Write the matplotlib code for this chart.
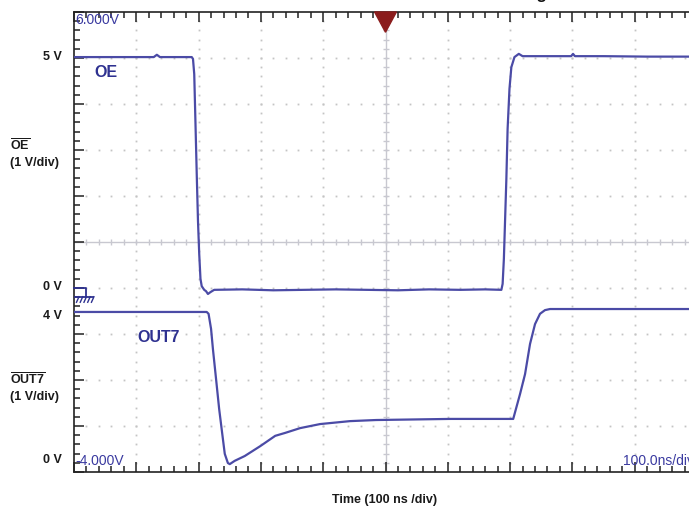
import matplotlib.pyplot as plt
import numpy as np

plt.rcParams['font.family'] = ['Liberation Sans', 'DejaVu Sans']
plt.rcParams['mathtext.fontset'] = 'custom'
plt.rcParams['mathtext.bf'] = 'Liberation Sans:bold'
plt.rcParams['mathtext.rm'] = 'Liberation Sans:bold'

# OE channel (time in ns, volts)
oe_t = [0, 128, 133, 138, 189, 191, 193, 195, 197, 199, 201, 203, 205,
        209, 212, 215, 219, 225, 270, 320, 370, 420, 470, 520, 570, 620,
        660, 686, 688, 690, 692, 694, 696, 699, 702, 707, 714, 720, 760,
        798, 801, 804, 850, 920, 1000]
oe_v = [5.02, 5.02, 5.07, 5.02, 5.02, 4.98, 4.65, 3.57, 2.48, 1.46, 0.74,
        0.20, 0.04, -0.04, -0.07, -0.13, -0.09, -0.04, -0.03, -0.05, -0.04,
        -0.03, -0.04, -0.05, -0.03, -0.04, -0.03, -0.04, 0.09, 0.63, 1.50,
        2.37, 3.46, 4.33, 4.80, 5.02, 5.09, 5.04, 5.04, 5.04, 5.09, 5.04,
        5.04, 5.03, 5.03]

# OUT7 channel (time in ns, volts)
out7_t = [0, 213, 216, 220, 223, 228, 233, 238, 242, 247, 250, 258, 274,
          299, 323, 339, 363, 395, 443, 485, 604, 705, 716, 724, 732, 740,
          748, 756, 764, 1000]
out7_v = [4.0, 4.0, 3.95, 3.54, 2.99, 2.18, 1.36, 0.68, 0.14, -0.11, -0.14,
          -0.05, 0.08, 0.35, 0.63, 0.71, 0.84, 0.95, 1.03, 1.06, 1.09, 1.09,
          1.77, 2.31, 3.13, 3.67, 3.95, 4.05, 4.08, 4.08]

screen_top = 6.0
screen_bottom = -4.0
trigger_t = 500
# OUT7 is drawn with its own offset on the shared screen
out7_zero = -3.717
out7_gain = 0.799

trace_color = '#4b4ba6'
text_blue = '#3a3aa0'
label_navy = '#2e3190'

W, H = 689, 510


def fpos(x, y):
    return x / W, 1 - y / H


fig = plt.figure(figsize=(W / 100, H / 100), dpi=100)
ax = fig.add_axes([74 / W, 37 / H, 623 / W, 460 / H])
ax.set_xlim(0, 1000)
ax.set_ylim(screen_bottom, screen_top)

for s in ['left', 'top', 'bottom']:
    ax.spines[s].set_color('#222222')
    ax.spines[s].set_linewidth(1.2)
ax.spines['right'].set_visible(False)

ax.set_xticks(np.arange(0, 1001, 100))
ax.set_xticks(np.arange(0, 1001, 20), minor=True)
ax.set_yticks(np.arange(-4, 7, 1))
ax.set_yticks(np.arange(-4, 6.01, 0.2), minor=True)
ax.tick_params(which='both', direction='in', top=True, bottom=True,
               left=True, right=False, labelbottom=False, labelleft=False,
               color='#222222', width=1.1)
ax.tick_params(which='major', length=7)
ax.tick_params(which='minor', length=4)

# dotted graticule
gx = np.arange(20, 1000, 20)
for gy in range(-3, 6):
    if gy == 1:
        continue
    ax.plot(gx, np.full(len(gx), gy), ls='none', marker='s', ms=1.3,
            color='#c4c4c4', mec='none', zorder=1)
gyy = np.arange(-3.8, 6, 0.2)
for gxx in range(100, 1000, 100):
    if gxx == trigger_t:
        continue
    ax.plot(np.full(len(gyy), gxx), gyy, ls='none', marker='s', ms=1.3,
            color='#c4c4c4', mec='none', zorder=1)

# center crosshair
ax.axhline(1, color='#c8c8d0', lw=1.0, zorder=1)
ax.axvline(trigger_t, color='#c8c8d0', lw=1.0, zorder=1)
ax.plot(gx, np.full(len(gx), 1), ls='none', marker='|', ms=4,
        color='#c8c8d0', zorder=1)
ax.plot(np.full(len(gyy), trigger_t), gyy, ls='none', marker='_', ms=4,
        color='#c8c8d0', zorder=1)

# traces
ax.plot(oe_t, oe_v, color=trace_color, lw=1.6, zorder=3)
ax.plot(out7_t, out7_zero + out7_gain * np.array(out7_v), color=trace_color,
        lw=1.6, zorder=3)

# trigger marker
ax.fill([trigger_t - 17.5, trigger_t + 17.5, trigger_t],
        [screen_top, screen_top, screen_top - 0.44],
        color='#8b1c1c', zorder=5, clip_on=False)

# ground marker
ax.plot([0, 19.3, 19.3], [0, 0, -0.19], color=label_navy, lw=1.3,
        clip_on=False, zorder=4)
ax.plot([1.6, 31], [-0.19, -0.19], color=label_navy, lw=1.3, zorder=4)
for hx in [8, 14, 20, 26, 32]:
    ax.plot([hx, hx - 4], [-0.19, -0.31], color=label_navy, lw=1.0,
            zorder=4)

# scope readouts
ax.text(2, 5.85, '6.000V', color=text_blue, fontsize=10, va='center',
        ha='left')
ax.text(3, -3.73, '-4.000V', color=text_blue, fontsize=10, va='center',
        ha='left')
ax.text(881, -3.73, '100.0ns/div', color=text_blue, fontsize=10,
        va='center', ha='left')

# trace names
ax.text(33, 4.7, 'OE', color=label_navy, fontsize=11.5, fontweight='bold',
        va='center', ha='left')
ax.text(101, -1.05, 'OUT7', color=label_navy, fontsize=11.5,
        fontweight='bold', va='center', ha='left')

# left side labels
lab = dict(color='#1a1a1a', fontsize=9, fontweight='bold', va='center')
fig.text(*fpos(62, 57), '5 V', ha='right', **lab)
fig.text(*fpos(10, 146), r'$\overline{\mathbf{OE}}$', ha='left', **lab)
fig.text(*fpos(10, 163), '(1 V/div)', ha='left', **lab)
fig.text(*fpos(62, 287), '0 V', ha='right', **lab)
fig.text(*fpos(62, 316), '4 V', ha='right', **lab)
fig.text(*fpos(10, 380), r'$\overline{\mathbf{OUT7}}$', ha='left', **lab)
fig.text(*fpos(10, 397), '(1 V/div)', ha='left', **lab)
fig.text(*fpos(62, 460), '0 V', ha='right', **lab)
fig.text(*fpos(385, 500), 'Time (100 ns /div)', ha='center', **lab)

# title cut off at the top edge, only its descender shows
fig.text(547 / W, 1 + 0.5 / H, 'Enable Timing', ha='right',
         va='baseline', color='#111111', fontsize=12, fontweight='bold')

fig.savefig('out.png', dpi=100)
